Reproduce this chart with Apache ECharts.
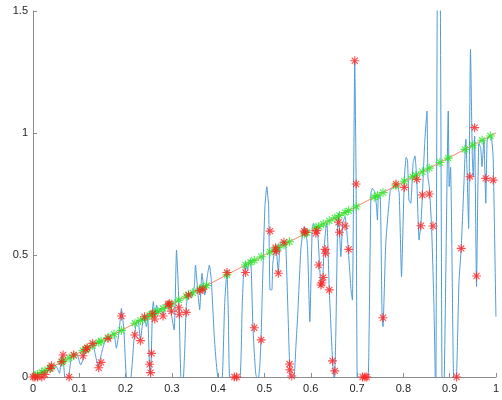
<!DOCTYPE html>
<html>
<head>
<meta charset="utf-8">
<script src="https://cdn.jsdelivr.net/npm/echarts@6/dist/echarts.min.js"></script>
<style>html,body{margin:0;padding:0;background:#fff;}#c{width:502px;height:400px;}</style>
</head>
<body>
<div id="c"></div>
<script>
// Blue reconstructed signal
const blueX = [0.000,0.020,0.035,0.044,0.051,0.057,0.063,0.066,0.070,0.075,0.083,0.091,0.096,0.103,0.108,0.112,0.119,0.129,0.134,0.141,0.148,0.155,0.160,0.166,0.172,0.176,0.180,0.186,0.191,0.196,0.203,0.210,0.218,0.223,0.227,0.232,0.238,0.241,0.245,0.248,0.252,0.254,0.258,0.260,0.263,0.267,0.270,0.275,0.281,0.288,0.295,0.299,0.305,0.310,0.313,0.316,0.320,0.324,0.328,0.331,0.336,0.342,0.346,0.349,0.351,0.356,0.360,0.365,0.371,0.377,0.381,0.385,0.392,0.396,0.401,0.408,0.414,0.419,0.422,0.426,0.446,0.452,0.455,0.459,0.463,0.468,0.471,0.475,0.481,0.486,0.490,0.493,0.496,0.501,0.505,0.509,0.512,0.516,0.518,0.524,0.527,0.530,0.534,0.542,0.546,0.551,0.554,0.557,0.563,0.568,0.572,0.579,0.586,0.589,0.593,0.598,0.603,0.606,0.611,0.615,0.619,0.622,0.626,0.629,0.633,0.635,0.640,0.647,0.651,0.654,0.658,0.660,0.665,0.669,0.674,0.680,0.687,0.690,0.692,0.695,0.698,0.700,0.702,0.722,0.726,0.730,0.733,0.738,0.742,0.744,0.746,0.750,0.754,0.756,0.762,0.772,0.780,0.786,0.791,0.796,0.802,0.806,0.809,0.812,0.816,0.821,0.825,0.829,0.834,0.838,0.841,0.846,0.851,0.853,0.856,0.861,0.866,0.870,0.874,0.879,0.884,0.887,0.897,0.899,0.902,0.905,0.909,0.914,0.920,0.925,0.930,0.935,0.938,0.941,0.945,0.949,0.951,0.954,0.958,0.963,0.967,0.970,0.974,0.978,0.981,0.986,0.990,0.994,1.000];
const blueY = [0.000,0.018,0.033,0.049,0.042,0.015,0.090,0.055,-0.02,-0.02,0.083,0.097,0.090,0.049,0.070,0.110,0.124,0.138,0.097,0.042,0.097,0.145,0.165,0.152,0.179,0.170,0.118,0.186,0.281,0.200,-0.02,-0.02,0.150,0.220,0.234,0.152,0.240,0.247,0.206,0.240,0.015,0.010,0.275,0.309,0.247,0.295,0.261,0.280,0.254,0.302,0.309,0.254,0.193,0.520,0.410,0.250,-0.02,-0.02,0.124,0.288,0.343,0.329,0.340,0.384,0.459,0.350,0.275,0.425,0.336,0.420,0.459,0.400,0.152,0.056,-0.02,-0.02,0.300,0.438,0.250,-0.02,-0.02,0.300,0.425,0.472,0.440,0.480,0.466,0.206,0.015,-0.02,0.050,0.179,0.397,0.700,0.780,0.700,0.357,0.357,0.466,0.534,0.493,0.425,0.548,0.555,0.540,0.250,0.070,-0.02,-0.02,0.130,0.261,0.534,0.616,0.600,0.534,0.227,0.602,0.630,0.600,0.590,0.459,0.370,0.410,0.534,0.616,0.630,0.357,0.070,-0.02,0.165,0.630,0.670,0.493,0.630,0.657,0.548,0.357,0.315,0.657,1.296,0.790,0.015,-0.05,-0.05,0.193,0.753,0.773,0.760,0.700,0.643,0.739,0.740,0.247,0.206,0.548,0.766,0.780,0.790,0.753,0.411,0.807,0.900,0.889,0.725,0.712,0.876,0.906,0.807,0.561,0.630,0.739,0.957,1.090,0.821,0.780,0.616,0.300,-0.1,1.7,1.7,-0.1,-0.1,1.090,0.780,0.860,0.500,-0.02,-0.02,0.384,0.530,0.750,0.975,0.820,0.609,1.343,0.900,0.821,0.988,0.370,0.957,0.940,0.862,0.971,0.712,0.971,0.990,0.985,0.900,0.247];

// Red noisy samples
const redX = [0.000,0.004,0.010,0.019,0.026,0.037,0.040,0.062,0.065,0.078,0.088,0.108,0.114,0.117,0.129,0.142,0.147,0.162,0.191,0.220,0.232,0.241,0.252,0.254,0.256,0.259,0.263,0.281,0.292,0.295,0.299,0.315,0.316,0.331,0.336,0.360,0.367,0.419,0.435,0.440,0.459,0.478,0.493,0.512,0.524,0.525,0.530,0.542,0.554,0.555,0.559,0.586,0.588,0.611,0.613,0.617,0.622,0.624,0.627,0.631,0.632,0.640,0.647,0.652,0.660,0.662,0.674,0.682,0.695,0.698,0.712,0.717,0.721,0.756,0.784,0.802,0.829,0.838,0.841,0.856,0.864,0.915,0.925,0.944,0.954,0.958,0.978,0.994];
const redY = [0.000,0.000,0.000,0.000,0.010,0.035,0.046,0.063,0.090,0.000,0.090,0.087,0.113,0.120,0.138,0.038,0.060,0.158,0.250,0.172,0.149,0.247,0.052,0.018,0.097,0.260,0.238,0.250,0.298,0.300,0.270,0.284,0.257,0.265,0.336,0.354,0.360,0.428,0.000,0.000,0.428,0.202,0.152,0.598,0.530,0.514,0.425,0.552,0.053,0.029,0.004,0.598,0.592,0.589,0.600,0.459,0.377,0.385,0.408,0.523,0.507,0.357,0.066,0.025,0.634,0.593,0.619,0.523,1.296,0.791,0.000,0.000,0.000,0.243,0.791,0.777,0.810,0.620,0.746,0.750,0.619,0.000,0.527,0.821,1.022,0.414,0.814,0.807];

// Green true samples (on the identity line)
const greenX = [0.004,0.010,0.019,0.026,0.037,0.040,0.062,0.065,0.078,0.088,0.108,0.114,0.117,0.129,0.142,0.147,0.162,0.175,0.191,0.220,0.232,0.241,0.252,0.256,0.263,0.270,0.281,0.292,0.299,0.315,0.331,0.336,0.345,0.360,0.367,0.375,0.419,0.459,0.470,0.478,0.493,0.512,0.524,0.530,0.542,0.554,0.586,0.592,0.611,0.617,0.627,0.640,0.652,0.662,0.674,0.682,0.698,0.737,0.744,0.756,0.784,0.802,0.820,0.827,0.841,0.856,0.879,0.897,0.933,0.950,0.970,0.988];
const greenY = [0.004,0.010,0.019,0.026,0.037,0.040,0.062,0.065,0.078,0.088,0.108,0.114,0.117,0.129,0.142,0.147,0.162,0.175,0.191,0.220,0.232,0.241,0.252,0.256,0.263,0.270,0.281,0.292,0.299,0.315,0.331,0.336,0.345,0.360,0.367,0.375,0.419,0.459,0.470,0.478,0.493,0.512,0.524,0.530,0.542,0.554,0.586,0.592,0.611,0.617,0.627,0.640,0.652,0.662,0.674,0.682,0.698,0.737,0.744,0.756,0.784,0.802,0.820,0.827,0.841,0.856,0.879,0.897,0.933,0.950,0.970,0.988];

// Identity fit line
const fitX = [0, 1];
const fitY = [0, 1];

const xTicks = ['0','0.1','0.2','0.3','0.4','0.5','0.6','0.7','0.8','0.9','1'];
const yTicks = ['0','0.5','1','1.5'];

const zip = (a, b) => a.map((v, i) => [v, b[i]]);
const star = 'path://M5,0L5,10M0,5L10,5M1.6,1.6L8.4,8.4M1.6,8.4L8.4,1.6';

const chart = echarts.init(document.getElementById('c'), null, {renderer: 'canvas'});
const axisCommon = {
  axisLine: {show: true, lineStyle: {color: '#8c8c8c', width: 1}},
  axisTick: {show: true, inside: true, length: 4, lineStyle: {color: '#8c8c8c'}},
  splitLine: {show: false},
  axisLabel: {color: '#262626', fontSize: 11, fontFamily: 'Liberation Sans, Arial, sans-serif'}
};
chart.setOption({
  animation: false,
  backgroundColor: '#ffffff',
  grid: {left: 33, right: 5, top: 11, bottom: 23, containLabel: false},
  xAxis: Object.assign({}, axisCommon, {
    type: 'value', min: 0, max: 1, interval: 0.1,
    axisLabel: Object.assign({}, axisCommon.axisLabel, {margin: 6,
      formatter: v => xTicks[Math.round(v * 10)]})
  }),
  yAxis: Object.assign({}, axisCommon, {
    type: 'value', min: 0, max: 1.5, interval: 0.5,
    axisLabel: Object.assign({}, axisCommon.axisLabel, {margin: 5,
      formatter: v => yTicks[Math.round(v * 2)]})
  }),
  series: [
    {type: 'line', data: zip(blueX, blueY), showSymbol: false, smooth: 0.15, clip: true,
     lineStyle: {color: '#4f9bd6', width: 1}, z: 1},
    {type: 'line', data: zip(fitX, fitY), showSymbol: false, clip: true,
     lineStyle: {color: '#ef8a68', width: 1}, z: 2},
    {type: 'scatter', data: zip(greenX, greenY), symbol: star, symbolSize: 9, clip: false,
     itemStyle: {color: 'rgba(0,0,0,0)', borderColor: '#22e822', borderWidth: 1.1}, z: 3},
    {type: 'scatter', data: zip(redX, redY), symbol: star, symbolSize: 9, clip: false,
     itemStyle: {color: 'rgba(0,0,0,0)', borderColor: '#ff2020', borderWidth: 1.1}, z: 4}
  ]
});
</script>
</body>
</html>
